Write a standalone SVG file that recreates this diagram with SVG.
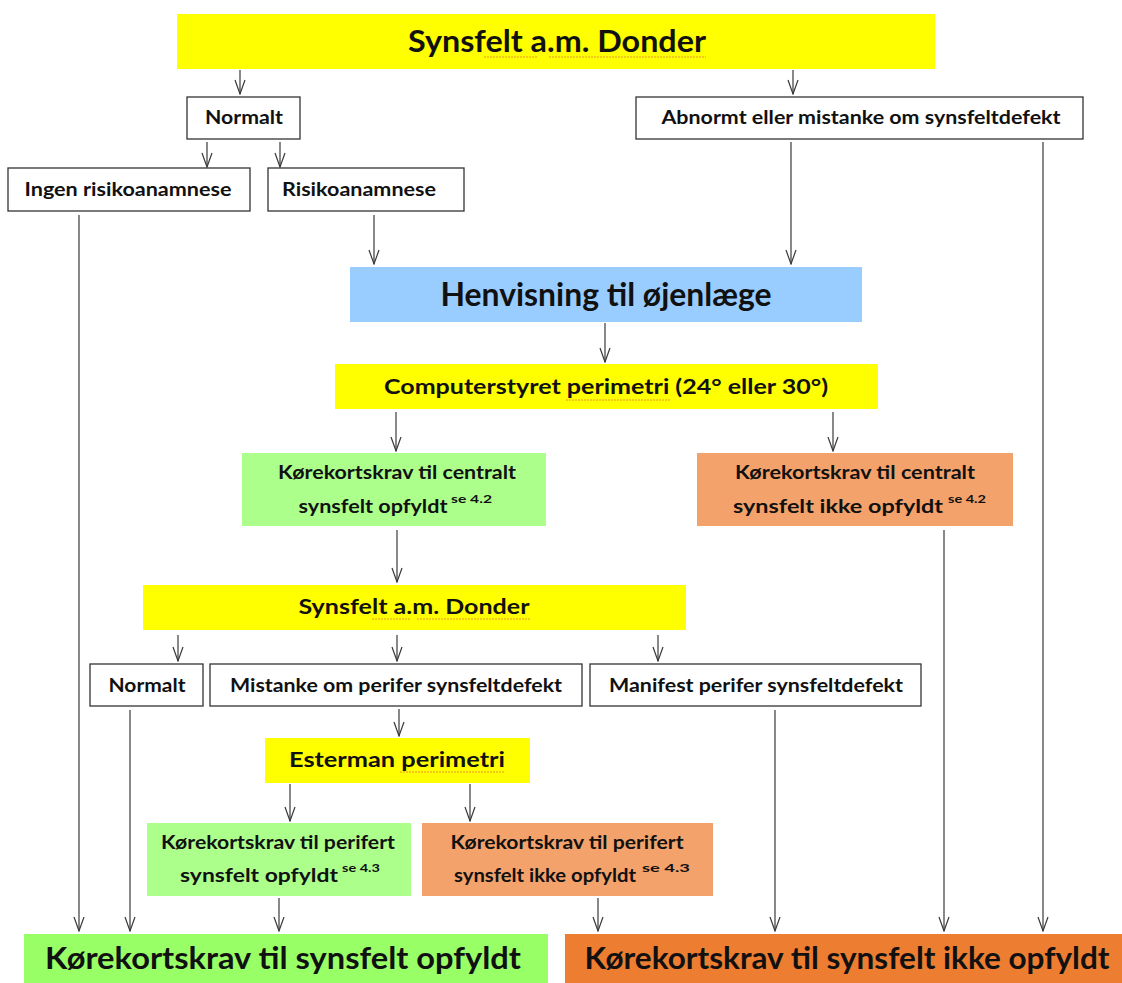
<svg xmlns="http://www.w3.org/2000/svg" width="1122" height="983" viewBox="0 0 1122 983">
<style>
.t{font-family:Lato,"Open Sans","Liberation Sans",sans-serif;font-weight:bold;fill:#111;text-anchor:middle}
.s{font-family:Lato,"Open Sans","Liberation Sans",sans-serif;font-weight:bold;fill:#111;font-size:12px}
.box{fill:#fff;stroke:#333;stroke-width:1.3}
.y{fill:#ffff00}
.c{stroke:#3a3a3a;stroke-width:1.2;fill:none;marker-end:url(#ah)}
.sp{stroke:#e07a3a;stroke-width:1;stroke-dasharray:2 1;fill:none;opacity:0.8}
</style>
<defs>
<marker id="ah" markerUnits="userSpaceOnUse" markerWidth="16" markerHeight="12" viewBox="0 0 16 12" refX="15" refY="6" orient="auto">
<path d="M1,1 L15,6 L1,11" fill="none" stroke="#3a3a3a" stroke-width="1.2"/>
</marker>
</defs>
<g id="connectors">
<line class="c" x1="240" y1="70" x2="240" y2="94"/>
<line class="c" x1="793" y1="70" x2="793" y2="94"/>
<line class="c" x1="207" y1="142" x2="207" y2="167"/>
<line class="c" x1="280" y1="142" x2="280" y2="167"/>
<line class="c" x1="79" y1="215" x2="79" y2="931"/>
<line class="c" x1="374" y1="215" x2="374" y2="264"/>
<line class="c" x1="791" y1="142" x2="791" y2="264"/>
<line class="c" x1="1043" y1="142" x2="1043" y2="931"/>
<line class="c" x1="605" y1="323" x2="605" y2="362"/>
<line class="c" x1="396" y1="412" x2="396" y2="451"/>
<line class="c" x1="833" y1="412" x2="833" y2="451"/>
<line class="c" x1="397" y1="530" x2="397" y2="582"/>
<line class="c" x1="944" y1="530" x2="944" y2="931"/>
<line class="c" x1="178" y1="635" x2="178" y2="661"/>
<line class="c" x1="397" y1="635" x2="397" y2="661"/>
<line class="c" x1="658" y1="635" x2="658" y2="661"/>
<line class="c" x1="130" y1="710" x2="130" y2="931"/>
<line class="c" x1="775" y1="710" x2="775" y2="931"/>
<line class="c" x1="399" y1="709" x2="399" y2="736"/>
<line class="c" x1="290" y1="784" x2="290" y2="821"/>
<line class="c" x1="470" y1="784" x2="470" y2="821"/>
<line class="c" x1="279" y1="898" x2="279" y2="931"/>
<line class="c" x1="598" y1="898" x2="598" y2="931"/>
</g>
<g id="top">
<rect class="y" x="177" y="14" width="758" height="55"/>
<text class="t" x="557" y="52" font-size="30" textLength="298" lengthAdjust="spacingAndGlyphs">Synsfelt a.m. Donder</text>
<path class="sp" d="M484,57 H537 M549,57 H706"/>
</g>
<g id="normalt1">
<rect class="box" x="187" y="97" width="113" height="42"/>
<text class="t" x="244" y="124" font-size="18" textLength="78" lengthAdjust="spacingAndGlyphs">Normalt</text>
</g>
<g id="abnormt">
<rect class="box" x="636" y="97" width="447" height="42"/>
<text class="t" x="861" y="124" font-size="18" textLength="399" lengthAdjust="spacingAndGlyphs">Abnormt eller mistanke om synsfeltdefekt</text>
</g>
<g id="ingen">
<rect class="box" x="8" y="168" width="242" height="43"/>
<text class="t" x="128" y="196" font-size="18" textLength="207" lengthAdjust="spacingAndGlyphs">Ingen risikoanamnese</text>
</g>
<g id="risiko">
<rect class="box" x="268" y="168" width="196" height="43"/>
<text class="t" x="359" y="196" font-size="18" textLength="154" lengthAdjust="spacingAndGlyphs">Risikoanamnese</text>
</g>
<g id="henvisning">
<rect x="350" y="267" width="512" height="55" fill="#99ccff"/>
<text class="t" x="606" y="306" font-size="32" textLength="331" lengthAdjust="spacingAndGlyphs">Henvisning til øjenlæge</text>
</g>
<g id="computer">
<rect class="y" x="335" y="364" width="543" height="45"/>
<text class="t" x="606" y="394" font-size="21" textLength="444" lengthAdjust="spacingAndGlyphs">Computerstyret perimetri (24° eller 30°)</text>
<path class="sp" d="M566,400 H670"/>
</g>
<g id="central-ok">
<rect x="242" y="453" width="304" height="73" fill="#adff8c"/>
<text class="t" x="397" y="479" font-size="18" textLength="238" lengthAdjust="spacingAndGlyphs">Kørekortskrav til centralt</text>
<text class="t" x="373" y="513" font-size="18" textLength="149" lengthAdjust="spacingAndGlyphs">synsfelt opfyldt</text>
<text class="s" x="451" y="503" textLength="41" lengthAdjust="spacingAndGlyphs">se 4.2</text>
</g>
<g id="central-ikke">
<rect x="697" y="453" width="316" height="73" fill="#f4a26b"/>
<text class="t" x="855" y="479" font-size="18" textLength="240" lengthAdjust="spacingAndGlyphs">Kørekortskrav til centralt</text>
<text class="t" x="838" y="513" font-size="18" textLength="210" lengthAdjust="spacingAndGlyphs">synsfelt ikke opfyldt</text>
<text class="s" x="948" y="503" textLength="38" lengthAdjust="spacingAndGlyphs">se 4.2</text>
</g>
<g id="donder2">
<rect class="y" x="143" y="585" width="543" height="45"/>
<text class="t" x="414" y="614" font-size="21" textLength="231" lengthAdjust="spacingAndGlyphs">Synsfelt a.m. Donder</text>
<path class="sp" d="M372,619 H410 M417,619 H530"/>
</g>
<g id="normalt2">
<rect class="box" x="90" y="664" width="113" height="42"/>
<text class="t" x="147" y="692" font-size="18" textLength="77" lengthAdjust="spacingAndGlyphs">Normalt</text>
</g>
<g id="mistanke">
<rect class="box" x="210" y="664" width="372" height="42"/>
<text class="t" x="396" y="692" font-size="18" textLength="332" lengthAdjust="spacingAndGlyphs">Mistanke om perifer synsfeltdefekt</text>
</g>
<g id="manifest">
<rect class="box" x="590" y="664" width="331" height="42"/>
<text class="t" x="756" y="692" font-size="18" textLength="294" lengthAdjust="spacingAndGlyphs">Manifest perifer synsfeltdefekt</text>
</g>
<g id="esterman">
<rect class="y" x="265" y="738" width="265" height="45"/>
<text class="t" x="397" y="767" font-size="21" textLength="216" lengthAdjust="spacingAndGlyphs">Esterman perimetri</text>
<path class="sp" d="M400,772 H505"/>
</g>
<g id="perifer-ok">
<rect x="147" y="823" width="264" height="73" fill="#adff8c"/>
<text class="t" x="278" y="849" font-size="18" textLength="234" lengthAdjust="spacingAndGlyphs">Kørekortskrav til perifert</text>
<text class="t" x="259" y="882" font-size="18" textLength="158" lengthAdjust="spacingAndGlyphs">synsfelt opfyldt</text>
<text class="s" x="342" y="872" textLength="38" lengthAdjust="spacingAndGlyphs">se 4.3</text>
</g>
<g id="perifer-ikke">
<rect x="422" y="823" width="291" height="73" fill="#f4a26b"/>
<text class="t" x="567" y="849" font-size="18" textLength="233" lengthAdjust="spacingAndGlyphs">Kørekortskrav til perifert</text>
<text class="t" x="545" y="882" font-size="18" textLength="182" lengthAdjust="spacingAndGlyphs">synsfelt ikke opfyldt</text>
<text class="s" x="642" y="872" textLength="48" lengthAdjust="spacingAndGlyphs">se 4.3</text>
</g>
<g id="final-ok">
<rect x="24" y="934" width="524" height="49" fill="#99ff66"/>
<text class="t" x="283" y="969" font-size="31" textLength="476" lengthAdjust="spacingAndGlyphs">Kørekortskrav til synsfelt opfyldt</text>
</g>
<g id="final-ikke">
<rect x="565" y="934" width="557" height="49" fill="#ed7d31"/>
<text class="t" x="847" y="969" font-size="31" textLength="525" lengthAdjust="spacingAndGlyphs">Kørekortskrav til synsfelt ikke opfyldt</text>
</g>
</svg>
